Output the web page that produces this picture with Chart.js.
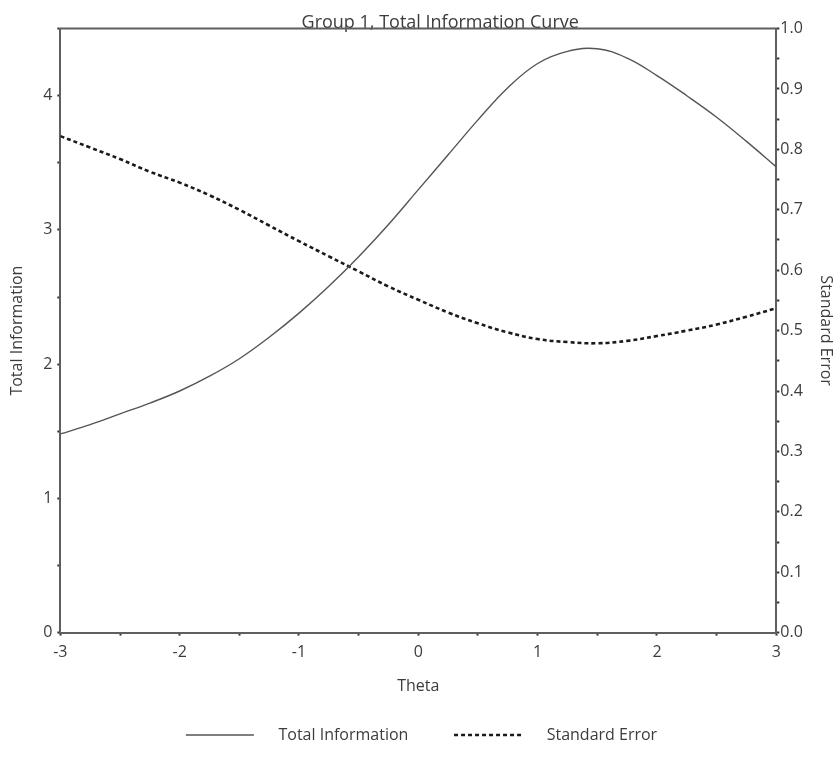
<!DOCTYPE html>
<html>
<head>
<meta charset="utf-8">
<script src="https://cdn.jsdelivr.net/npm/chart.js@4/dist/chart.umd.min.js"></script>
<style>
  body { margin: 0; background: #fff; }
  #wrap { width: 837px; height: 772px; }
</style>
</head>
<body>
<div id="wrap"><canvas id="infoChart"></canvas></div>
<script>
// Theta grid and values
const theta = [-3, -2.75, -2.5, -2.25, -2, -1.75, -1.5, -1.25, -1, -0.75, -0.5, -0.25, 0,
  0.25, 0.5, 0.75, 1, 1.25, 1.5, 1.75, 2, 2.25, 2.5, 2.75, 3];
const totalInfo = [1.48, 1.55, 1.63, 1.71, 1.80, 1.91, 2.04, 2.20, 2.38, 2.58, 2.80, 3.04, 3.30,
  3.56, 3.82, 4.06, 4.24, 4.33, 4.35, 4.28, 4.15, 4.00, 3.84, 3.66, 3.47];
const stdError = [0.822, 0.803, 0.784, 0.763, 0.745, 0.724, 0.700, 0.674, 0.648, 0.623, 0.598, 0.573, 0.551,
  0.530, 0.512, 0.497, 0.486, 0.481, 0.479, 0.483, 0.491, 0.500, 0.510, 0.523, 0.537];
const infoTicks = [0, 1, 2, 3, 4];
const thetaTicks = [-3, -2, -1, 0, 1, 2, 3];

const FONT = "'Open Sans', 'Noto Sans', sans-serif";
const textColor = '#3c3c3c';
const axisColor = '#5f5f5f';

// top border of the plot frame
const topFrame = {
  id: 'topFrame',
  afterDraw(chart) {
    const { ctx, chartArea } = chart;
    ctx.save();
    ctx.strokeStyle = axisColor;
    ctx.lineWidth = 2;
    ctx.beginPath();
    ctx.moveTo(chartArea.left - 1, chartArea.top);
    ctx.lineTo(chartArea.right + 1, chartArea.top);
    ctx.stroke();
    ctx.restore();
  }
};

function axisBase() {
  return {
    grid: { drawOnChartArea: false, drawTicks: true, tickLength: 3, tickColor: '#333', tickWidth: 2 },
    border: { color: axisColor, width: 2 },
    ticks: { color: textColor, font: { family: FONT, size: 16 }, autoSkip: false, maxRotation: 0 }
  };
}

const xAxis = axisBase();
Object.assign(xAxis, {
  type: 'linear', position: 'bottom', min: -3, max: 3,
  title: { display: true, text: 'Theta', color: textColor, font: { family: FONT, size: 16 }, padding: { top: 8, bottom: 2 } }
});
xAxis.ticks.stepSize = 0.5;
xAxis.ticks.padding = 7;
xAxis.ticks.callback = v => thetaTicks.includes(v) ? String(v) : '';

const yAxis = axisBase();
Object.assign(yAxis, {
  type: 'linear', position: 'left', min: 0, max: 4.5,
  title: { display: true, text: 'Total Information', color: textColor, font: { family: FONT, size: 16 }, padding: { top: 0, bottom: 11 } }
});
yAxis.ticks.stepSize = 0.5;
yAxis.ticks.padding = 5;
yAxis.ticks.callback = v => infoTicks.includes(v) ? String(v) : '';

const y1Axis = axisBase();
Object.assign(y1Axis, {
  type: 'linear', position: 'right', min: 0, max: 1,
  title: { display: true, text: 'Standard Error', color: textColor, font: { family: FONT, size: 16 }, padding: { top: 0, bottom: 12 } }
});
y1Axis.ticks.stepSize = 0.05;
y1Axis.ticks.padding = 1;
y1Axis.ticks.callback = v => {
  const r = Math.round(v * 100);
  return r % 10 === 0 ? (r / 100).toFixed(1) : '';
};

new Chart(document.getElementById('infoChart'), {
  type: 'line',
  data: {
    datasets: [
      {
        label: 'Total Information',
        data: theta.map((t, i) => ({ x: t, y: totalInfo[i] })),
        yAxisID: 'y',
        borderColor: '#555',
        borderWidth: 1.4,
        pointRadius: 0,
        tension: 0.4,
        fill: false
      },
      {
        label: 'Standard Error',
        data: theta.map((t, i) => ({ x: t, y: stdError[i] })),
        yAxisID: 'y1',
        borderColor: '#1a1a1a',
        borderWidth: 2.6,
        borderDash: [4, 3],
        pointRadius: 0,
        tension: 0.4,
        fill: false
      }
    ]
  },
  options: {
    responsive: true,
    maintainAspectRatio: false,
    animation: false,
    layout: { padding: { top: 0, left: 8, right: 2, bottom: 19 } },
    scales: { x: xAxis, y: yAxis, y1: y1Axis },
    plugins: {
      title: {
        display: true,
        // leading spaces nudge the title right like the original
        text: '        Group 1, Total Information Curve',
        color: textColor,
        font: { family: FONT, size: 18, weight: 'normal' },
        padding: { top: 12, bottom: -5 }
      },
      legend: {
        position: 'bottom',
        labels: {
          usePointStyle: true,
          pointStyle: 'line',
          pointStyleWidth: 68,
          padding: 29,
          color: textColor,
          font: { family: FONT, size: 16 },
          generateLabels(chart) {
            const items = Chart.defaults.plugins.legend.labels.generateLabels(chart);
            items.forEach((item, i) => {
              const ds = chart.data.datasets[i];
              item.lineDash = ds.borderDash || [];
              item.lineWidth = ds.borderWidth;
              item.strokeStyle = ds.borderColor;
            });
            items[0].text = '    ' + items[0].text + '    ';
            items[1].text = '    ' + items[1].text;
            return items;
          }
        }
      },
      tooltip: { enabled: false }
    }
  },
  plugins: [topFrame]
});
</script>
</body>
</html>
